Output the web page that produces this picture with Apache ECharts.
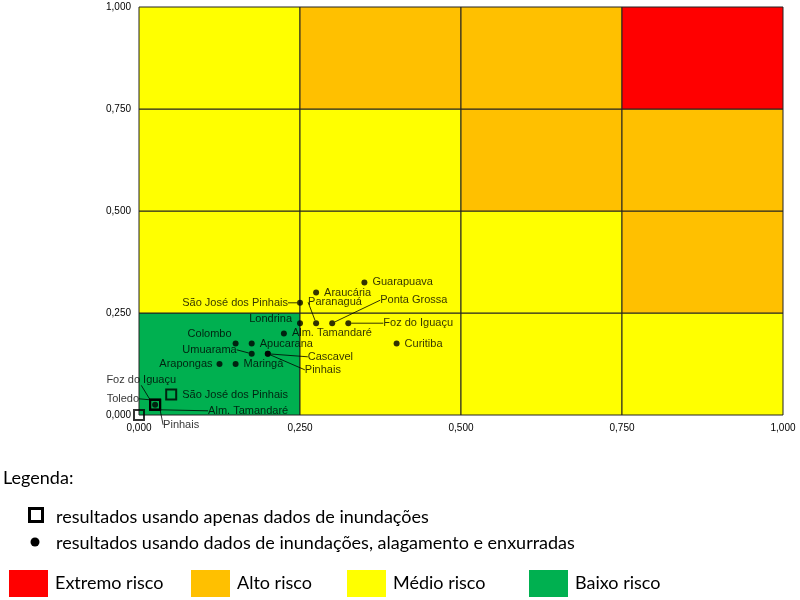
<!DOCTYPE html>
<html>
<head>
<meta charset="utf-8">
<script src="https://cdn.jsdelivr.net/npm/echarts@6/dist/echarts.min.js"></script>
<style>html,body{margin:0;padding:0;background:#fff}#c{width:800px;height:600px}</style>
</head>
<body>
<div id="c"></div>
<script>
// ---- data ----
const axisTicks = [0, 0.25, 0.5, 0.75, 1];
const riskNames = ['Extremo risco', 'Alto risco', 'Médio risco', 'Baixo risco'];
const riskColors = ['#FF0000', '#FFC000', '#FFFF00', '#00B050'];
// risk level index per cell, rows from bottom (y 0–0.25) to top, columns left to right
const riskGrid = [
  [3, 2, 2, 2],
  [2, 2, 2, 1],
  [2, 2, 1, 1],
  [2, 1, 1, 0]
];
// results using flood, waterlogging and flash-flood data (dots)
const dotNames = ['Guarapuava', 'Araucária', 'São José dos Pinhais', 'Londrina', 'Paranaguá', 'Ponta Grossa', 'Foz do Iguaçu', 'Alm. Tamandaré', 'Curitiba', 'Colombo', 'Apucarana', 'Umuarama', 'Cascavel', 'Pinhais', 'Arapongas', 'Maringá', ''];
const dotX = [0.350, 0.275, 0.250, 0.250, 0.275, 0.300, 0.325, 0.225, 0.400, 0.150, 0.175, 0.175, 0.200, 0.200, 0.125, 0.150, 0.025];
const dotY = [0.325, 0.300, 0.275, 0.225, 0.225, 0.225, 0.225, 0.200, 0.175, 0.175, 0.175, 0.150, 0.150, 0.150, 0.125, 0.125, 0.025];
// results using only flood data (squares)
const squareNames = ['São José dos Pinhais', 'Foz do Iguaçu', 'Toledo', 'Alm. Tamandaré', 'Pinhais', ''];
const squareX = [0.050, 0.025, 0.025, 0.025, 0.025, 0.000];
const squareY = [0.050, 0.025, 0.025, 0.025, 0.025, 0.000];

// ---- label placement (style only) ----
const dotLabelStyle = {
  'Guarapuava': {pos: 'right'},
  'Araucária': {pos: 'right'},
  'São José dos Pinhais': {pos: 'left', dx: -4, dy: 0, line: true},
  'Londrina': {pos: 'left', dy: -4},
  'Paranaguá': {pos: 'right', dx: -16, dy: -21, line: true},
  'Ponta Grossa': {pos: 'right', dx: 40, dy: -23, line: true},
  'Foz do Iguaçu': {pos: 'right', dx: 27, dy: 0, line: true},
  'Alm. Tamandaré': {pos: 'right'},
  'Curitiba': {pos: 'right'},
  'Colombo': {pos: 'left', dx: 4, dy: -10},
  'Apucarana': {pos: 'right'},
  'Umuarama': {pos: 'left', dx: -7, dy: -4, line: true},
  'Cascavel': {pos: 'right', dx: 32, dy: 3, line: true},
  'Pinhais': {pos: 'right', dx: 29, dy: 16, line: true},
  'Arapongas': {pos: 'left', dx: 1},
  'Maringá': {pos: 'right'}
};
const squareLabelStyle = {
  'São José dos Pinhais': {pos: 'right'},
  'Foz do Iguaçu': {pos: 'left', dx: 32, dy: -25, line: true},
  'Toledo': {pos: 'left', dx: -5, dy: -6, line: true},
  'Alm. Tamandaré': {pos: 'right', dx: 42, dy: 6, line: true},
  'Pinhais': {pos: 'right', dx: -3, dy: 20, line: true}
};

function buildPoints(names, xs, ys, styles) {
  return names.map((n, i) => {
    const s = styles[n] || null;
    return {
      name: n,
      value: [xs[i], ys[i]],
      label: {show: !!s, position: s ? s.pos : 'right', formatter: n},
      labelLine: {show: !!(s && s.line)},
      _dx: s && s.dx ? s.dx : 0,
      _dy: s && s.dy ? s.dy : 0
    };
  });
}
const dotData = buildPoints(dotNames, dotX, dotY, dotLabelStyle);
const squareData = buildPoints(squareNames, squareX, squareY, squareLabelStyle);

const cellData = [];
riskGrid.forEach((row, r) => row.forEach((lvl, c) => {
  cellData.push([axisTicks[c], axisTicks[r], axisTicks[c + 1], axisTicks[r + 1], lvl]);
}));

const fmt = v => v.toFixed(3).replace('.', ',');
const chartFont = 'Liberation Sans, Arial, sans-serif';
const legendFont = 'Lato, Open Sans, sans-serif';
const legendFontSize = 18;

const chart = echarts.init(document.getElementById('c'), null, {renderer: 'canvas'});

function layoutFor(dataArr) {
  return function (p) {
    const d = dataArr[p.dataIndex];
    return {dx: d._dx, dy: d._dy, moveOverlap: false, hideOverlap: false};
  };
}

const legendRows = [
  'resultados usando apenas dados de inundações',
  'resultados usando dados de inundações, alagamento e enxurradas'
];
const swatchX = [9, 191, 347, 529];

function legendText(x, y, text) {
  return {type: 'text', x: x, y: y, style: {text: text, font: legendFontSize + 'px ' + legendFont, fill: '#000', textVerticalAlign: 'middle', verticalAlign: 'middle'}};
}

const graphics = [
  legendText(3, 478, 'Legenda:'),
  {type: 'rect', shape: {x: 29.5, y: 508.5, width: 13, height: 13}, style: {fill: '#fff', stroke: '#000', lineWidth: 3}},
  {type: 'circle', shape: {cx: 35, cy: 542, r: 4.5}, style: {fill: '#000'}},
  legendText(56, 517, legendRows[0]),
  legendText(56, 543, legendRows[1])
];
[0, 1, 2, 3].forEach(i => {
  graphics.push({type: 'rect', shape: {x: swatchX[i], y: 570, width: 39, height: 27}, style: {fill: riskColors[i]}});
  graphics.push(legendText(swatchX[i] + 46, 583, riskNames[i]));
});

chart.setOption({
  animation: false,
  backgroundColor: '#fff',
  grid: {left: 139, right: 17, top: 7, bottom: 185, containLabel: false},
  xAxis: {
    type: 'value', min: 0, max: 1, interval: 0.25,
    axisLine: {show: false}, axisTick: {show: false}, splitLine: {show: false},
    axisLabel: {formatter: fmt, color: '#000', fontSize: 10, fontFamily: chartFont, margin: 8}
  },
  yAxis: {
    type: 'value', min: 0, max: 1, interval: 0.25,
    axisLine: {show: false}, axisTick: {show: false}, splitLine: {show: false},
    axisLabel: {formatter: fmt, color: '#000', fontSize: 10, fontFamily: chartFont, margin: 8}
  },
  series: [
    {
      type: 'custom', z: 1, silent: true,
      data: cellData,
      renderItem: function (params, api) {
        const p0 = api.coord([api.value(0), api.value(1)]);
        const p1 = api.coord([api.value(2), api.value(3)]);
        return {
          type: 'rect',
          shape: {x: p0[0], y: p1[1], width: p1[0] - p0[0], height: p0[1] - p1[1]},
          style: {fill: riskColors[api.value(4)], stroke: '#222', lineWidth: 1}
        };
      }
    },
    {
      type: 'scatter', z: 5, name: 'inundações',
      symbol: 'rect', symbolSize: 10,
      itemStyle: {color: 'rgba(0,0,0,0)', borderColor: '#000', borderWidth: 2},
      data: squareData,
      label: {color: '#000', fontSize: 11, fontFamily: chartFont, distance: 5},
      labelLine: {lineStyle: {color: '#000', width: 0.8}},
      labelLayout: layoutFor(squareData)
    },
    {
      type: 'scatter', z: 6, name: 'inundações, alagamento e enxurradas',
      symbol: 'circle', symbolSize: 6,
      itemStyle: {color: '#000'},
      data: dotData,
      label: {color: '#000', fontSize: 11, fontFamily: chartFont, distance: 5},
      labelLine: {lineStyle: {color: '#000', width: 0.8}},
      labelLayout: layoutFor(dotData)
    }
  ],
  graphic: graphics
});
</script>
</body>
</html>
